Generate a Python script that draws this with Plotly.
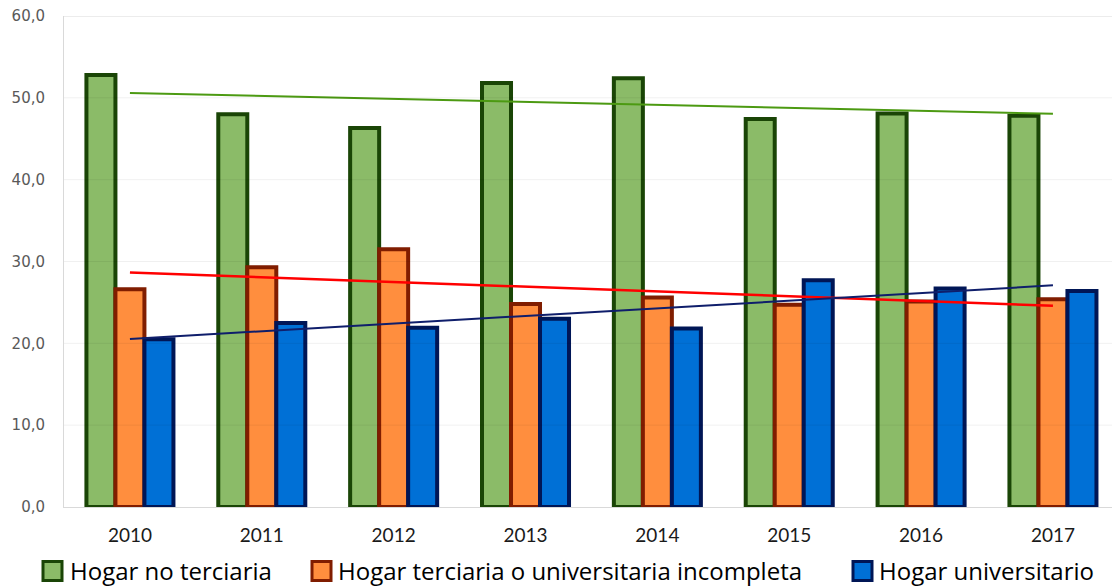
import numpy as np
import plotly.graph_objects as go

# Data
years = [2010, 2011, 2012, 2013, 2014, 2015, 2016, 2017]
hogar_no_terciaria = [52.8, 48.0, 46.3, 51.8, 52.4, 47.4, 48.1, 47.8]
hogar_terciaria_incompleta = [26.6, 29.3, 31.5, 24.8, 25.6, 24.7, 25.1, 25.4]
hogar_universitario = [20.5, 22.5, 21.9, 23.0, 21.8, 27.7, 26.7, 26.4]
series_names = [
    "Hogar no terciaria",
    "Hogar terciaria o universitaria incompleta",
    "Hogar universitario",
]
y_ticks = [0, 10, 20, 30, 40, 50, 60]

# Styles
fills = ["#8BBB68", "#FF8E3E", "#0070D6"]
borders = ["#1A4506", "#801D00", "#001656"]
trend_colors = ["#4C9A12", "#FF0000", "#0F1E6B"]
trend_widths = [2, 2.5, 2]

W, H = 1112, 587
L, R, T, B = 64, 1112, 16, 507  # plot area in pixels


def px_x(p):
    return (p - L) / (R - L)


def px_y(p):
    return (B - p) / (B - T)


fig = go.Figure()
all_series = [hogar_no_terciaria, hogar_terciaria_incompleta, hogar_universitario]

for name, vals, fc, bc in zip(series_names, all_series, fills, borders):
    fig.add_trace(go.Bar(
        x=years, y=vals, name=name,
        marker=dict(color=fc, line=dict(color=bc, width=4)),
        showlegend=False,
    ))

# Linear trend per series
xs = np.array(years, dtype=float)
for vals, tc, tw in zip(all_series, trend_colors, trend_widths):
    k, b = np.polyfit(xs, np.array(vals), 1)
    ends = np.array([xs[0], xs[-1]])
    fig.add_trace(go.Scatter(
        x=ends, y=k * ends + b, mode="lines",
        line=dict(color=tc, width=tw), showlegend=False, hoverinfo="skip",
    ))

shapes = []
# Faint gridlines drawn over the bars
for v in y_ticks[1:]:
    shapes.append(dict(
        type="line", xref="paper", yref="y", x0=0, x1=1, y0=v, y1=v,
        line=dict(color="rgba(0,0,0,0.06)" if v < y_ticks[-1] else "#D9D9D9", width=1),
        layer="above",
    ))

# Legend: swatches and labels below the axis
legend_items = [(43, 68), (312, 336), (853, 877)]
legend_cy = 570
sw = 19
annotations = []
for (sx, tx), name, fc, bc in zip(legend_items, series_names, fills, borders):
    shapes.append(dict(
        type="rect", xref="paper", yref="paper",
        x0=px_x(sx), x1=px_x(sx + sw),
        y0=px_y(legend_cy + 1 - sw / 2), y1=px_y(legend_cy + 1 + sw / 2),
        fillcolor=fc, line=dict(color=bc, width=3),
    ))
    annotations.append(dict(
        text=name, xref="paper", yref="paper",
        x=px_x(tx), y=px_y(legend_cy), xanchor="left", yanchor="middle",
        showarrow=False, font=dict(family="Open Sans", size=24, color="#000000"),
    ))

fig.update_layout(
    width=W, height=H,
    margin=dict(l=L, r=W - R, t=T, b=H - B, autoexpand=False),
    paper_bgcolor="white", plot_bgcolor="white",
    barmode="group", bargap=0.34, bargroupgap=0,
    separators=", ",
    shapes=shapes, annotations=annotations,
    showlegend=False,
)

fig.update_xaxes(
    range=[years[0] - 0.5, years[0] - 0.5 + (R - L) / 131.86],
    tickmode="array", tickvals=years, ticktext=[str(y) for y in years],
    showgrid=False, zeroline=False,
    showline=True, linecolor="#D9D9D9", linewidth=1,
    ticks="", ticklabelstandoff=11,
    tickfont=dict(family="Lato", size=19, color="#1A1A1A"),
)
fig.update_yaxes(
    range=[0, 60], tickmode="array", tickvals=y_ticks, tickformat=".1f",
    showgrid=False, zeroline=False,
    showline=True, linecolor="#D9D9D9", linewidth=1,
    ticks="", ticklabelstandoff=15,
    tickfont=dict(family="DejaVu Sans", size=15, color="#595959"),
)

fig.write_html("out.html")
